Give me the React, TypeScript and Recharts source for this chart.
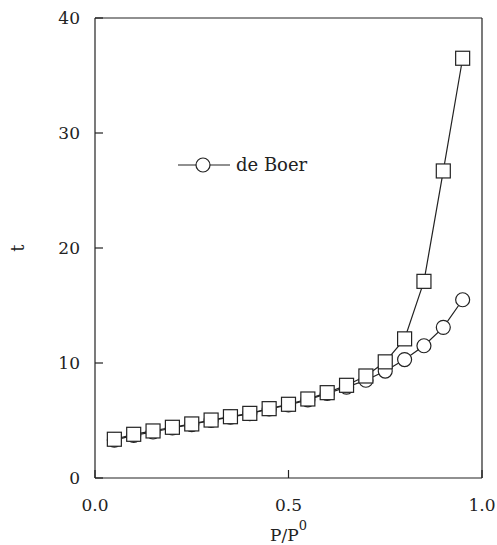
import {
  ComposedChart,
  Legend,
  Line,
  ReferenceLine,
  XAxis,
  YAxis,
  Label,
} from 'recharts'

const pressure = [0.05, 0.1, 0.15, 0.2, 0.25, 0.3, 0.35, 0.4, 0.45, 0.5, 0.55, 0.6, 0.65, 0.7, 0.75, 0.8, 0.85, 0.9, 0.95]
const tSquare = [3.37, 3.8, 4.09, 4.41, 4.7, 5.04, 5.33, 5.62, 6.03, 6.41, 6.87, 7.42, 8.06, 8.87, 10.1, 12.1, 17.1, 26.7, 36.5]
const tDeBoer = [3.3, 3.7, 4.0, 4.35, 4.65, 5.0, 5.3, 5.6, 6.0, 6.35, 6.8, 7.35, 7.9, 8.5, 9.3, 10.3, 11.5, 13.1, 15.5]
const xTicks = [0, 0.5, 1]
const yTicks = [0, 10, 20, 30, 40]

const rows = pressure.map((p, i) => ({ p, square: tSquare[i], deBoer: tDeBoer[i] }))

const INK = '#222'
const FONT = 'DejaVu Serif'

const SquareDot = (props: any) => {
  const { cx, cy, index } = props
  if (cx == null || cy == null) return <g key={index} />
  return <rect key={index} x={cx - 7} y={cy - 7} width={14} height={14} fill="#fff" stroke={INK} strokeWidth={1.2} />
}

const CircleDot = (props: any) => {
  const { cx, cy, index } = props
  if (cx == null || cy == null) return <g key={index} />
  return <circle key={index} cx={cx} cy={cy} r={7} fill="#fff" stroke={INK} strokeWidth={1.2} />
}

const YTick = ({ x, y, payload }: any) => (
  <g>
    <line x1={x} y1={y} x2={x + 8} y2={y} stroke={INK} strokeWidth={1.2} />
    <text x={x - 15} y={y + 6} textAnchor="end" fontSize={17} fontFamily={FONT} fill={INK}>
      {payload.value}
    </text>
  </g>
)

const XTick = ({ x, y, payload }: any) => (
  <g>
    <line x1={x} y1={y} x2={x} y2={y - 8} stroke={INK} strokeWidth={1.2} />
    <text x={x} y={y + 33} textAnchor="middle" fontSize={17} fontFamily={FONT} fill={INK}>
      {payload.value.toFixed(1)}
    </text>
  </g>
)

const LegendBox = () => (
  <svg width={140} height={30}>
    <line x1={0} y1={13} x2={52} y2={13} stroke={INK} strokeWidth={1.2} />
    <circle cx={25} cy={13} r={7} fill="#fff" stroke={INK} strokeWidth={1.2} />
    <text x={58} y={19} fontSize={18} fontFamily={FONT} fill={INK}>
      de Boer
    </text>
  </svg>
)

export default function App() {
  return (
    <div style={{ position: 'absolute', left: 0, top: 0, background: '#fff' }}>
      <ComposedChart width={497} height={545} data={rows} margin={{ top: 18, right: 15, left: 0, bottom: 0 }}>
        <XAxis
          dataKey="p"
          type="number"
          domain={[0, 1]}
          ticks={xTicks}
          tickSize={0}
          tickMargin={0}
          tickLine={false}
          tick={<XTick />}
          height={67}
          stroke={INK}
          strokeWidth={1.2}
          allowDataOverflow
        >
          <Label
            content={({ viewBox }: any) => (
              <text x={viewBox.x + viewBox.width / 2} y={541} textAnchor="middle" fontSize={17} fontFamily={FONT} fill={INK}>
                P/P
                <tspan dy={-11} fontSize={13}>0</tspan>
              </text>
            )}
          />
        </XAxis>
        <YAxis
          type="number"
          domain={[0, 40]}
          ticks={yTicks}
          tickSize={0}
          tickMargin={0}
          tickLine={false}
          tick={<YTick />}
          width={95}
          stroke={INK}
          strokeWidth={1.2}
        >
          <Label
            content={({ viewBox }: any) => (
              <text
                x={24}
                y={viewBox.y + viewBox.height / 2}
                transform={`rotate(-90 24 ${viewBox.y + viewBox.height / 2})`}
                textAnchor="middle"
                fontSize={18}
                fontFamily={FONT}
                fill={INK}
              >
                t
              </text>
            )}
          />
        </YAxis>
        <ReferenceLine y={40} stroke={INK} strokeWidth={1.2} />
        <ReferenceLine x={1} stroke={INK} strokeWidth={1.2} />
        <Legend
          content={<LegendBox />}
          layout="horizontal"
          verticalAlign="middle"
          align="center"
          wrapperStyle={{ position: 'absolute', left: 178, top: 152, width: 140 }}
        />
        <Line
          dataKey="deBoer"
          stroke={INK}
          strokeWidth={1.2}
          dot={CircleDot}
          isAnimationActive={false}
        />
        <Line
          dataKey="square"
          stroke={INK}
          strokeWidth={1.2}
          dot={SquareDot}
          isAnimationActive={false}
        />
      </ComposedChart>
    </div>
  )
}
